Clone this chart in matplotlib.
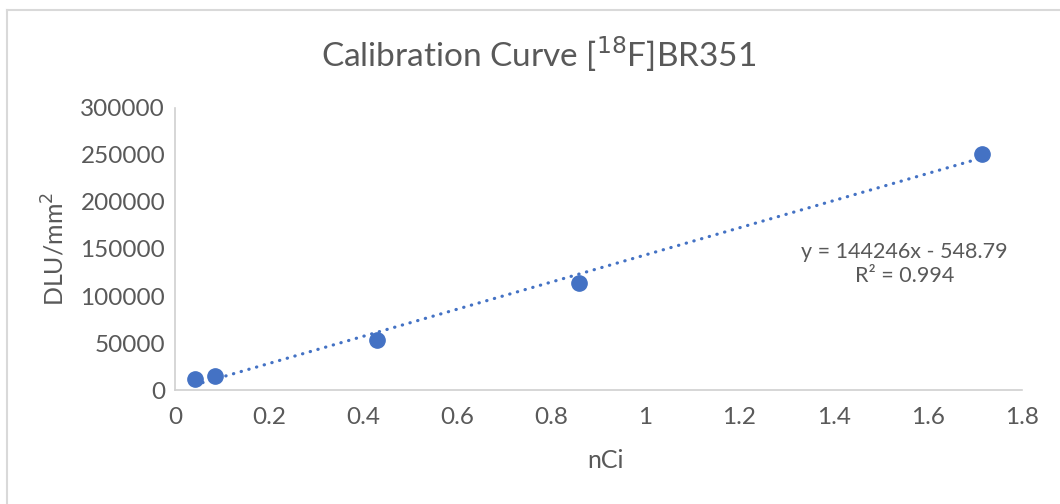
import matplotlib.pyplot as plt
from matplotlib.lines import Line2D

# Data
nci = [0.0429, 0.0858, 0.429, 0.858, 1.716]
dlu = [11700, 14900, 53200, 113500, 251000]
slope = 144246
intercept = -548.79
r2 = 0.994

x_ticks = [0, 0.2, 0.4, 0.6, 0.8, 1, 1.2, 1.4, 1.6, 1.8]
x_tick_labels = ["0", "0.2", "0.4", "0.6", "0.8", "1", "1.2", "1.4", "1.6", "1.8"]
y_ticks = [0, 50000, 100000, 150000, 200000, 250000, 300000]

blue = "#4472C4"
gray = "#595959"
plt.rcParams['font.family'] = ['Lato', 'DejaVu Sans']

fig = plt.figure(figsize=(10.6, 5.04), dpi=100)
ax = fig.add_axes([0.165, 0.226, 0.799, 0.560])

# trendline
tx = [nci[0], nci[-1]]
ty = [slope * v + intercept for v in tx]
ax.plot(tx, ty, color=blue, linewidth=2.3, linestyle=(0, (0.1, 2.4)),
        dash_capstyle='round', zorder=2)
ax.plot(nci, dlu, 'o', color=blue, markersize=11, zorder=3)

ax.set_xlim(0, 1.8)
ax.set_ylim(0, 300000)
ax.set_xticks(x_ticks)
ax.set_xticklabels(x_tick_labels)
ax.set_yticks(y_ticks)
ax.tick_params(length=0, labelsize=17.5, colors=gray)
ax.tick_params(axis='x', pad=12)
ax.tick_params(axis='y', pad=7)
for s in ['top', 'right']:
    ax.spines[s].set_visible(False)
for s in ['left', 'bottom']:
    ax.spines[s].set_color('#D0D0D0')
    ax.spines[s].set_linewidth(1.2)

ax.set_xlabel("nCi", fontsize=18, color=gray, va='center')
ax.xaxis.set_label_coords(0.508, -0.25)
ax.set_ylabel("DLU/mm$^2$", fontsize=18, color=gray, va='center')
ax.yaxis.set_label_coords(-0.142, 0.5)
fig.text(0.508, 0.892, "Calibration Curve [$^{18}$F]BR351", fontsize=24,
         color=gray, ha='center', va='center')

ax.text(1.551, 134000, "y = 144246x - 548.79\nR² = 0.994", fontsize=15.5,
        color=gray, ha='center', va='center', linespacing=1.2)

# chart border
fig.add_artist(Line2D([0.0066, 0.0066], [0, 0.981], color='#D9D9D9', lw=1.5))
fig.add_artist(Line2D([0.0066, 1], [0.981, 0.981], color='#D9D9D9', lw=1.5))

plt.savefig("out.png", dpi=100)
